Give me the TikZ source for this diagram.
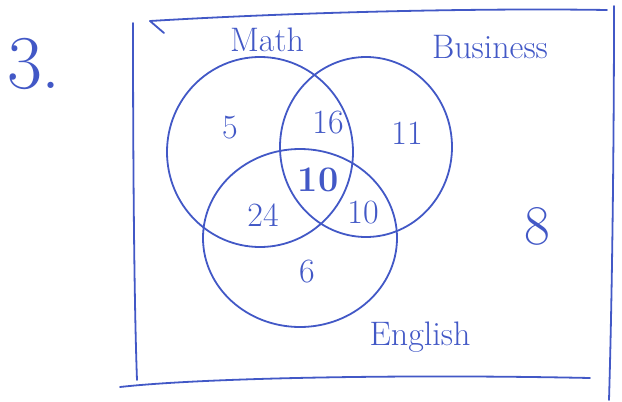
\documentclass[tikz,border=0pt]{standalone}
\usepackage{xcolor}
\usepackage{tikz}
\usetikzlibrary{shapes,positioning}
\definecolor{penblue}{RGB}{66,88,198}

\begin{document}
\begin{tikzpicture}[
    x=1pt, y=-1pt,
    pen/.style={draw=penblue, line width=1.8pt, line cap=round},
    setshape/.style={ellipse, draw=penblue, line width=1.8pt, inner sep=0pt},
    numlbl/.style={text=penblue, inner sep=0pt, font=\fontsize{34}{34}\selectfont},
    setlbl/.style={text=penblue, inner sep=0pt, font=\fontsize{34}{34}\selectfont}
]
\useasboundingbox (0,0) rectangle (622,402);

% frame
\draw[pen] (150,21) .. controls (300,12) and (480,8) .. (607,10);
\draw[pen] (150,21) -- (164,33);
\draw[pen] (133,23) .. controls (133,150) and (134,300) .. (137,380);
\draw[pen] (120,387) .. controls (200,378) and (400,374) .. (590,378);
\draw[pen] (614,6) .. controls (614,150) and (612,300) .. (609,400);

% sets
\node[setshape, minimum width=186pt, minimum height=190pt] (math) at (260,152) {};
\node[setshape, minimum width=172pt, minimum height=180pt] (business) at (366,147) {};
\node[setshape, minimum width=194pt, minimum height=178pt] (english) at (300,238) {};

% labels
\node[setlbl] (mathlbl) at (267,40) {Math};
\node[setlbl] (businesslbl) at (490,47) {Business};
\node[setlbl] (englishlbl) at (420,337) {English};

\node[numlbl] (onlymath) at (230,128) {5};
\node[numlbl] (mathbus) at (328,123) {16};
\node[numlbl] (onlybus) at (407,133) {11};
\node[numlbl, font=\fontsize{36}{36}\selectfont\bfseries] (all) at (318,180) {10};
\node[numlbl] (matheng) at (263,215) {24};
\node[numlbl] (buseng) at (363,213) {10};
\node[numlbl] (onlyeng) at (307,272) {6};
\node[numlbl, font=\fontsize{56}{56}\selectfont] (none) at (537,226) {8};
\node[numlbl, font=\fontsize{76}{76}\selectfont] (qnum) at (34,64) {3.};
\end{tikzpicture}
\end{document}
